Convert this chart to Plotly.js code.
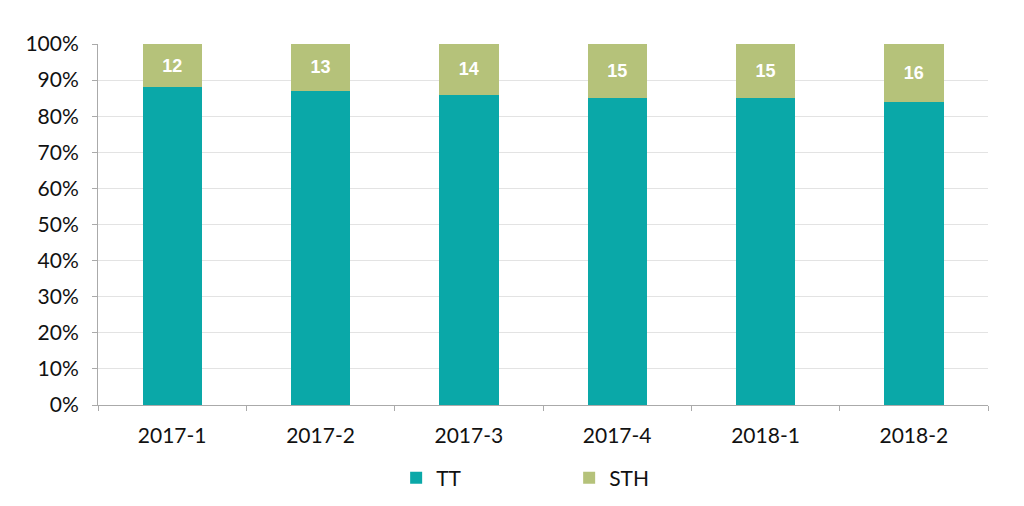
<!DOCTYPE html>
<html>
<head>
<meta charset="utf-8">
<script src="https://cdn.plot.ly/plotly-3.0.1.min.js"></script>
<style>html,body{margin:0;padding:0;background:#fff;}#chart{width:1024px;height:506px;}</style>
</head>
<body>
<div id="chart"></div>
<script>
const categories = ["2017-1", "2017-2", "2017-3", "2017-4", "2018-1", "2018-2"];
const ttValues = [88, 87, 86, 85, 85, 84];
const sthValues = [12, 13, 14, 15, 15, 16];
const sthLabels = ["12", "13", "14", "15", "15", "16"];

const font = "Lato, 'Open Sans', sans-serif";
const traces = [
  {
    type: "bar", name: "TT", x: categories, y: ttValues,
    marker: {color: "#0aa8a8"}, hoverinfo: "x+y"
  },
  {
    type: "bar", name: "STH", x: categories, y: sthValues,
    marker: {color: "#b5c27a"},
    text: sthLabels, textposition: "inside", insidetextanchor: "middle",
    textfont: {family: "'Liberation Sans', Arial, sans-serif", size: 18, color: "#ffffff", weight: "bold"},
    hoverinfo: "x+y"
  }
];
const layout = {
  width: 1024, height: 506,
  margin: {l: 98, r: 36, t: 44, b: 101},
  barmode: "stack",
  bargap: 0.6,
  paper_bgcolor: "#ffffff", plot_bgcolor: "#ffffff",
  font: {family: font, size: 21, color: "#111111"},
  showlegend: true,
  legend: {orientation: "h", traceorder: "normal", x: 0.335, xanchor: "left",
           yref: "container", y: 0.055, yanchor: "middle",
           font: {family: font, size: 21, color: "#111111"}, entrywidth: 128, itemwidth: 30},
  xaxis: {
    type: "category", tickson: "boundaries", ticks: "outside", ticklen: 5, tickcolor: "#aaaaaa",
    showline: true, linecolor: "#aaaaaa", linewidth: 1, showgrid: false, automargin: false,
    ticklabelstandoff: 12,
    tickfont: {family: font, size: 21, color: "#111111"}
  },
  yaxis: {
    range: [0, 100], dtick: 10, ticksuffix: "%", ticks: "outside", ticklen: 5, tickcolor: "#aaaaaa",
    showline: true, linecolor: "#aaaaaa", linewidth: 1, automargin: false,
    showgrid: true, gridcolor: "#e3e3e3", zeroline: false,
    ticklabelstandoff: 9,
    tickfont: {family: font, size: 21, color: "#111111"}
  }
};
Plotly.newPlot("chart", traces, layout, {displayModeBar: false, staticPlot: true});
</script>
</body>
</html>
